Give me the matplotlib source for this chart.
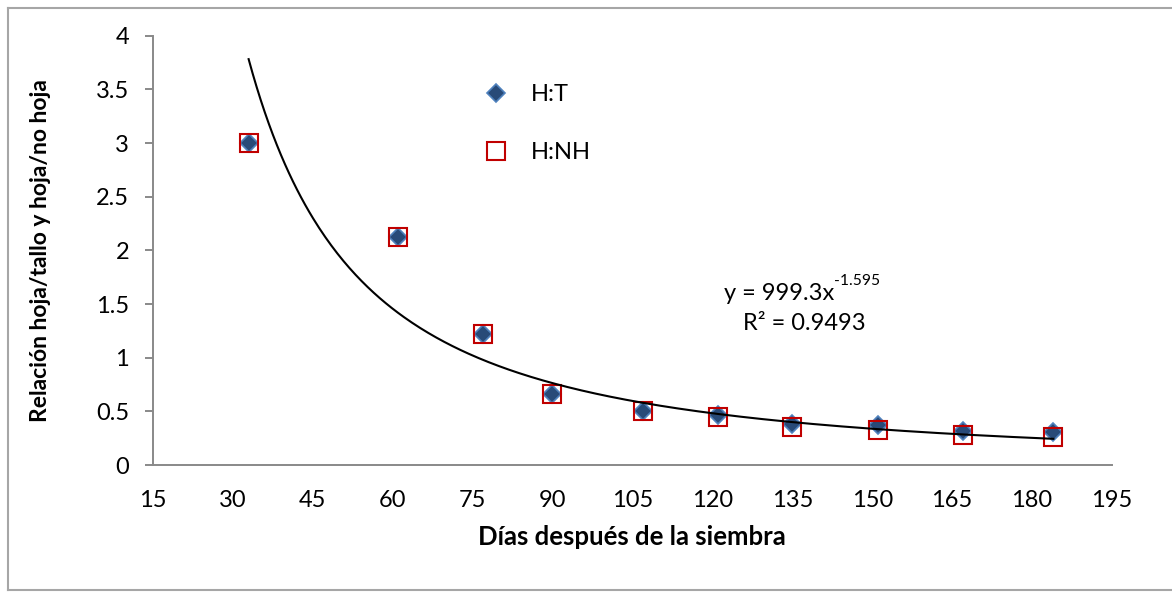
import numpy as np
import matplotlib
matplotlib.use("Agg")
import matplotlib.pyplot as plt
from matplotlib.lines import Line2D

plt.rcParams['font.family'] = ['Lato', 'DejaVu Sans']

# Días después de la siembra
dias = [33, 61, 77, 90, 107, 121, 135, 151, 167, 184]
# Relación hoja:tallo
h_t = [3.00, 2.12, 1.22, 0.66, 0.50, 0.47, 0.38, 0.37, 0.32, 0.31]
# Relación hoja:no hoja
h_nh = [3.00, 2.12, 1.22, 0.66, 0.50, 0.45, 0.35, 0.33, 0.28, 0.26]

# Ajuste potencial y = a * x^b
coef_a = 999.3
coef_b = -1.595
r2 = 0.9493

x_ticks = [15, 30, 45, 60, 75, 90, 105, 120, 135, 150, 165, 180, 195]
y_ticks = [0, 0.5, 1, 1.5, 2, 2.5, 3, 3.5, 4]

W, H = 1172, 611
fig = plt.figure(figsize=(W / 100, H / 100), dpi=100)
ax = fig.add_axes([152.7 / W, 1 - 465 / H, (1112 - 152.7) / W, (465 - 35.7) / H])

axis_gray = '#898989'
fs = 17

ax.plot(dias, h_t, linestyle='none', marker='D', markersize=9,
        markerfacecolor='#284A78', markeredgecolor='#4F81BD',
        markeredgewidth=1.2, label='H:T', zorder=3)
ax.plot(dias, h_nh, linestyle='none', marker='s', markersize=13,
        markerfacecolor='none', markeredgecolor='#C00000',
        markeredgewidth=1.5, label='H:NH', zorder=4)

xs = np.linspace(min(dias), max(dias), 400)
ax.plot(xs, coef_a * xs ** coef_b, color='black', linewidth=1.5, zorder=5)

ax.set_xlim(15, 195)
ax.set_ylim(0, 4)
ax.set_xticks(x_ticks)
ax.set_xticklabels([str(v) for v in x_ticks])
ax.set_yticks(y_ticks)
ax.set_yticklabels([f'{v:g}' for v in y_ticks])

for side in ('top', 'right'):
    ax.spines[side].set_visible(False)
for side in ('left', 'bottom'):
    ax.spines[side].set_color(axis_gray)
    ax.spines[side].set_linewidth(1.4)

ax.tick_params(axis='x', length=0, pad=18, labelsize=fs, colors='black')
ax.tick_params(axis='y', direction='out', length=6, width=1.4, color=axis_gray,
               pad=11, labelsize=fs, labelcolor='black')

ax.set_xlabel('Días después de la siembra', fontsize=18.5, fontweight='bold',
              labelpad=10)
ax.set_ylabel('Relación hoja/tallo y hoja/no hoja', fontsize=16.5,
              fontweight='bold', labelpad=32)

leg = ax.legend(loc='upper left', bbox_to_anchor=(0.336, 0.91), frameon=False,
                fontsize=fs, labelspacing=1.58, handletextpad=0.95,
                handlelength=1.0, borderaxespad=0)

t1 = ax.text(834 / W, 1 - 293 / H, 'y = 999.3x', transform=fig.transFigure,
             ha='right', va='center', fontsize=fs)
ax.annotate('-1.595', xy=(1.0, 0.72), xycoords=t1, fontsize=fs * 0.66,
            ha='left', va='bottom')
ax.text(804 / W, 1 - 323 / H, 'R² = 0.9493', transform=fig.transFigure,
        ha='center', va='center', fontsize=fs)

# Chart frame
frame_kw = dict(color='#A6A6A6', linewidth=1.5, transform=fig.transFigure)
fig.add_artist(Line2D([7.5 / W, 1.0], [1 - 7.5 / H, 1 - 7.5 / H], **frame_kw))
fig.add_artist(Line2D([7.5 / W, 7.5 / W], [1 - 7.5 / H, 1 - 590 / H], **frame_kw))
fig.add_artist(Line2D([7.5 / W, 1.0], [1 - 590 / H, 1 - 590 / H], **frame_kw))

fig.savefig('out.png', dpi=100, facecolor='white')
